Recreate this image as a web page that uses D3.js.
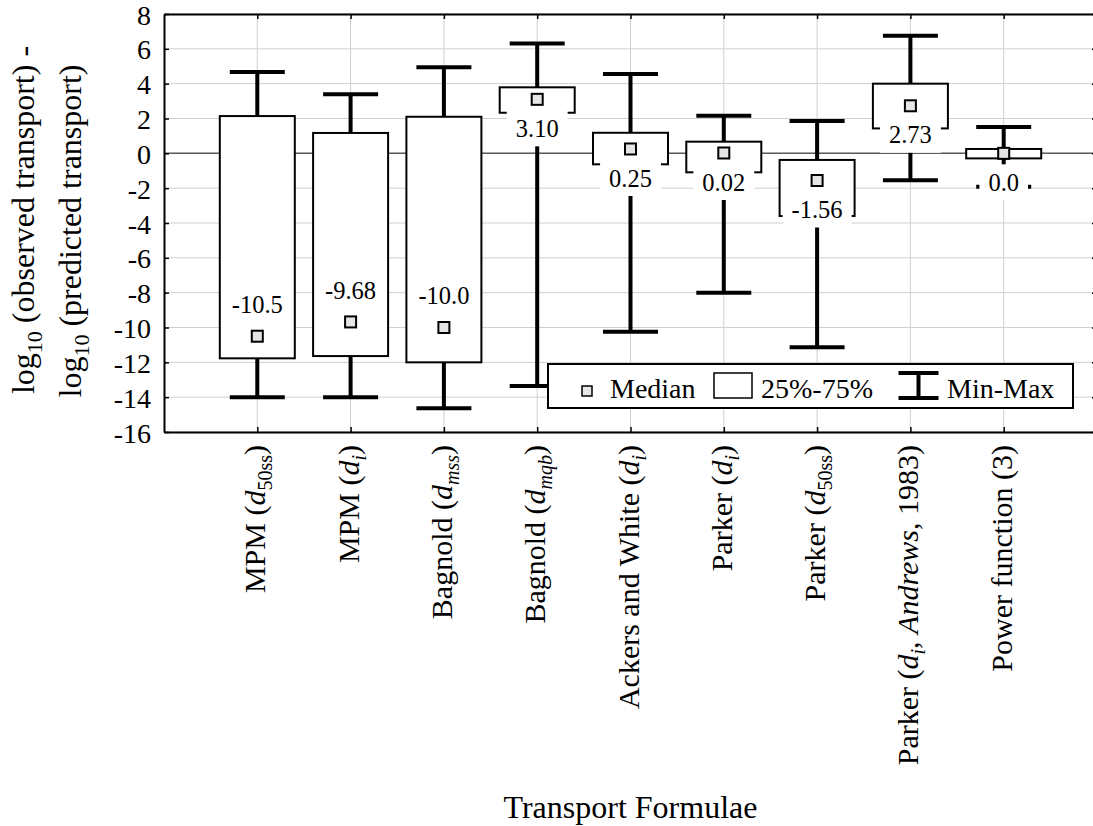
<!DOCTYPE html>
<html><head><meta charset="utf-8">
<script src="https://cdn.jsdelivr.net/npm/d3@7"></script>
<style>
body{margin:0;background:#fff}
svg{display:block}
</style>
</head><body>
<svg id="chart" width="1093" height="826"></svg>
<script>
// ---------------- data ----------------
const categories = ["MPM (d50ss)", "MPM (di)", "Bagnold (dmss)", "Bagnold (dmqb)",
  "Ackers and White (di)", "Parker (di)", "Parker (d50ss)",
  "Parker (di, Andrews, 1983)", "Power function (3)"];
// rich text pieces for each category label: [text, style]
const categoryParts = [
  [["MPM (", "n"], ["d", "i"], ["50ss", "sub"], [")", "n"]],
  [["MPM (", "n"], ["d", "i"], ["i", "subi"], [")", "n"]],
  [["Bagnold (", "n"], ["d", "i"], ["mss", "subi"], [")", "n"]],
  [["Bagnold (", "n"], ["d", "i"], ["mqb", "subi"], [")", "n"]],
  [["Ackers and White (", "n"], ["d", "i"], ["i", "subi"], [")", "n"]],
  [["Parker (", "n"], ["d", "i"], ["i", "subi"], [")", "n"]],
  [["Parker (", "n"], ["d", "i"], ["50ss", "sub"], [")", "n"]],
  [["Parker (", "n"], ["d", "i"], ["i", "subi"], [", ", "n"], ["Andrews", "i"], [", 1983)", "n"]],
  [["Power function (3)", "n"]]
];
const maxValues    = [4.67, 3.39, 4.94, 6.31, 4.55, 2.16, 1.85, 6.75, 1.51];
const q3Values     = [2.14, 1.17, 2.10, 3.79, 1.18, 0.67, -0.38, 4.00, 0.25];
const q1Values     = [-11.77, -11.64, -12.00, 2.33, -0.63, -1.09, -3.60, 1.43, -0.29];
const minValues    = [-14.00, -14.00, -14.64, -13.36, -10.24, -8.00, -11.14, -1.55, -1.92];
const medianValues = [-10.5, -9.68, -10.0, 3.10, 0.25, 0.02, -1.56, 2.73, 0.0];
const medianLabels = ["-10.5", "-9.68", "-10.0", "3.10", "0.25", "0.02", "-1.56", "2.73", "0.0"];
const labelSide    = ["above", "above", "above", "below", "below", "below", "below", "below", "below"];
const yTicks = [-16, -14, -12, -10, -8, -6, -4, -2, 0, 2, 4, 6, 8];
const legendLabels = ["Median", "25%-75%", "Min-Max"];
const xTitle = "Transport Formulae";

// ---------------- layout ----------------
const FONT = '"Liberation Serif", "Times New Roman", Times, serif';
const svg = d3.select("#chart").style("font-family", FONT);
const L = 164, R = 1097, T = 14, B = 432;
const x = d3.scalePoint().domain(categories).range([L, R]).padding(1);
const y = d3.scaleLinear().domain([-16, 8]).range([B, T]);
const boxW = 75, capW = 55;
const data = categories.map((c, i) => ({
  c, parts: categoryParts[i], max: maxValues[i], q3: q3Values[i], q1: q1Values[i],
  min: minValues[i], med: medianValues[i], lab: medianLabels[i], side: labelSide[i]
}));
function txt(sel) { return sel.style("font-family", FONT).attr("fill", "#000"); }

svg.append("rect").attr("width", 1093).attr("height", 826).attr("fill", "#fff");

// grid
const grid = svg.append("g");
grid.selectAll("line.h").data(yTicks).join("line")
  .attr("x1", L).attr("x2", R).attr("y1", d => y(d)).attr("y2", d => y(d))
  .attr("stroke", "#cfcfcf").attr("stroke-width", 1);
grid.selectAll("line.v").data(categories).join("line")
  .attr("x1", d => x(d)).attr("x2", d => x(d)).attr("y1", T).attr("y2", B)
  .attr("stroke", "#cfcfcf").attr("stroke-width", 1);
// zero line
svg.append("line").attr("x1", L).attr("x2", R).attr("y1", y(0)).attr("y2", y(0))
  .attr("stroke", "#5a5a5a").attr("stroke-width", 1.5);

// whiskers
const wg = svg.append("g").attr("stroke", "#000").attr("stroke-width", 4);
wg.selectAll("line.stem").data(data).join("line")
  .attr("x1", d => x(d.c)).attr("x2", d => x(d.c))
  .attr("y1", d => y(d.max)).attr("y2", d => y(d.min));
wg.selectAll("line.capT").data(data).join("line")
  .attr("x1", d => x(d.c) - capW / 2).attr("x2", d => x(d.c) + capW / 2)
  .attr("y1", d => y(d.max)).attr("y2", d => y(d.max));
wg.selectAll("line.capB").data(data).join("line")
  .attr("x1", d => x(d.c) - capW / 2).attr("x2", d => x(d.c) + capW / 2)
  .attr("y1", d => y(d.min)).attr("y2", d => y(d.min));

// boxes
svg.append("g").selectAll("rect").data(data).join("rect")
  .attr("x", d => x(d.c) - boxW / 2).attr("width", boxW)
  .attr("y", d => y(d.q3)).attr("height", d => y(d.q1) - y(d.q3))
  .attr("fill", "#fff").attr("stroke", "#000").attr("stroke-width", 2);

// medians
const ms = 11;
svg.append("g").selectAll("rect").data(data).join("rect")
  .attr("x", d => x(d.c) - ms / 2).attr("y", d => y(d.med) - ms / 2)
  .attr("width", ms).attr("height", ms)
  .attr("fill", "#e6e6e6").attr("stroke", "#000").attr("stroke-width", 2);

// median labels with white background
const lg = svg.append("g");
data.forEach(d => {
  const cy = y(d.med) + (d.side === "above" ? -32 : 29);
  const g = lg.append("g");
  const bg = g.append("rect").attr("fill", "#fff");
  const t = txt(g.append("text")).attr("x", x(d.c)).attr("y", cy).attr("dy", "0.35em")
    .attr("text-anchor", "middle").style("font-size", "24.5px").text(d.lab);
  const w = t.node().getComputedTextLength() + 18;
  bg.attr("x", x(d.c) - w / 2).attr("width", w).attr("y", cy - 18).attr("height", 36);
});

// axes (frame)
const axL = d3.axisLeft(y).tickValues(yTicks).tickSizeInner(-5).tickSizeOuter(0)
  .tickPadding(13).tickFormat(d => String(d));
const gL = svg.append("g").attr("transform", `translate(${L},0)`).call(axL);
gL.attr("font-family", null);
txt(gL.selectAll("text")).style("font-size", "28px").attr("dy", "0.36em");
const axR = d3.axisRight(y).tickValues(yTicks).tickSizeInner(-5).tickSizeOuter(0).tickFormat("");
svg.append("g").attr("transform", `translate(${R},0)`).call(axR);
const axB = d3.axisBottom(x).tickSizeInner(-5).tickSizeOuter(0).tickFormat("");
svg.append("g").attr("transform", `translate(0,${B})`).call(axB);
const axT = d3.axisTop(x).tickSizeInner(-5).tickSizeOuter(0).tickFormat("");
svg.append("g").attr("transform", `translate(0,${T})`).call(axT);
svg.selectAll(".domain").attr("stroke", "#000").attr("stroke-width", 2);
svg.selectAll(".tick line").attr("stroke", "#000").attr("stroke-width", 1.5);

// category labels (rotated)
data.forEach(d => {
  const t = txt(svg.append("text"))
    .attr("transform", `translate(${x(d.c) + 8},445) rotate(-90)`)
    .attr("text-anchor", "end").style("font-size", "30px");
  let shifted = false;
  d.parts.forEach(([s, st]) => {
    const sp = t.append("tspan").text(s).style("font-family", FONT);
    if (st === "i" || st === "subi") sp.style("font-style", "italic");
    if (st === "sub" || st === "subi") {
      sp.style("font-size", "20px").attr("dy", 7); shifted = true;
    } else if (shifted) {
      sp.attr("dy", -7); shifted = false;
    }
  });
});

// axis titles
txt(svg.append("text")).attr("x", (L + R) / 2).attr("y", 818).attr("text-anchor", "middle")
  .style("font-size", "32px").text(xTitle);

function yTitleLine(xpos, cy, word) {
  const t = txt(svg.append("text")).attr("transform", `translate(${xpos},${cy}) rotate(-90)`)
    .attr("text-anchor", "middle").style("font-size", "32px");
  t.append("tspan").text("log");
  t.append("tspan").text("10").style("font-size", "22px").attr("dy", 8);
  t.append("tspan").text(" " + word).attr("dy", -8);
}
yTitleLine(34, 220, "(observed transport) -");
yTitleLine(81, 231, "(predicted transport)");

// legend
const lgd = svg.append("g");
lgd.append("rect").attr("x", 548).attr("y", 364).attr("width", 525).attr("height", 44)
  .attr("fill", "#fff").attr("stroke", "#000").attr("stroke-width", 2);
lgd.append("rect").attr("x", 582).attr("y", 386).attr("width", 10).attr("height", 10)
  .attr("fill", "#e6e6e6").attr("stroke", "#000").attr("stroke-width", 1.5);
txt(lgd.append("text")).attr("x", 610).attr("y", 398).style("font-size", "28px").text(legendLabels[0]);
lgd.append("rect").attr("x", 714).attr("y", 373).attr("width", 38).attr("height", 25)
  .attr("fill", "#fff").attr("stroke", "#000").attr("stroke-width", 1.5);
txt(lgd.append("text")).attr("x", 761).attr("y", 398).style("font-size", "28px").text(legendLabels[1]);
const wx = 918.5;
lgd.append("line").attr("x1", wx).attr("x2", wx).attr("y1", 373).attr("y2", 398).attr("stroke", "#000").attr("stroke-width", 4);
lgd.append("line").attr("x1", wx - 20).attr("x2", wx + 20).attr("y1", 373).attr("y2", 373).attr("stroke", "#000").attr("stroke-width", 4);
lgd.append("line").attr("x1", wx - 20).attr("x2", wx + 20).attr("y1", 398).attr("y2", 398).attr("stroke", "#000").attr("stroke-width", 4);
txt(lgd.append("text")).attr("x", 947).attr("y", 398).style("font-size", "28px").text(legendLabels[2]);
</script>
</body></html>
